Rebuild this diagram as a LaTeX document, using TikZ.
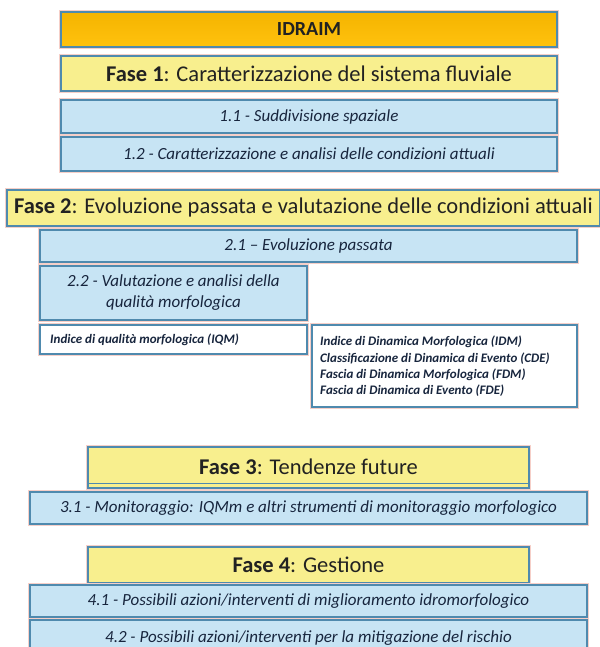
\documentclass[tikz,border=0pt]{standalone}
\usepackage{fontspec}
\setmainfont{Carlito}
\definecolor{bordc}{HTML}{4F8AAE}
\definecolor{halo}{HTML}{F6CFC8}
\definecolor{orangef}{HTML}{F5B400}
\definecolor{orangel}{HTML}{FFC20E}
\definecolor{yellowf}{HTML}{F8EF8E}
\definecolor{bluef}{HTML}{C7E4F4}
\definecolor{txtdark}{HTML}{222222}
\definecolor{txtblue}{HTML}{17253D}
\tikzset{
  x=1pt, y=-1pt,
  boxbase/.style={draw=bordc, line width=1.1pt, inner sep=0pt, outer sep=0pt,
    preaction={draw=halo, line width=3.2pt}},
  idrbox/.style={boxbase, top color=orangef, bottom color=orangel, text=txtdark,
    font=\fontsize{20}{24}\selectfont\bfseries},
  fasebox/.style={boxbase, fill=yellowf, text=txtdark, font=\fontsize{22.5}{26}\selectfont},
  stepbox/.style={boxbase, fill=bluef, text=txtblue, font=\fontsize{17}{21}\selectfont\itshape},
  listbox/.style={boxbase, fill=white},
  smalltxt/.style={inner sep=0pt, text=txtblue, align=left,
    font=\fontsize{13}{16.3}\selectfont\bfseries\itshape},
}
\begin{document}
\begin{tikzpicture}
\useasboundingbox (0,0) rectangle (599,647);
% Fase 1
\node[idrbox, minimum width=496pt, minimum height=35pt] (idraim) at (309,29.5) {IDRAIM};
\node[fasebox, minimum width=496pt, minimum height=35pt] (f1) at (309,73.5) {\textbf{Fase 1}: Caratterizzazione del sistema fluviale};
\node[stepbox, minimum width=496pt, minimum height=33pt] (s11) at (309,116.5) {1.1 - Suddivisione spaziale};
\node[stepbox, minimum width=496pt, minimum height=34pt] (s12) at (309,154) {1.2 - Caratterizzazione e analisi delle condizioni attuali};
% Fase 2
\node[fasebox, minimum width=593pt, minimum height=36pt] (f2) at (303.5,208) {\textbf{Fase 2}: Evoluzione passata e valutazione delle condizioni attuali};
\node[stepbox, minimum width=537pt, minimum height=32pt] (s21) at (308.5,246) {2.1 -- Evoluzione passata};
\node[stepbox, minimum width=267pt, minimum height=54pt, align=center] (s22) at (173.5,293) {2.2 - Valutazione e analisi della\\qualità morfologica};
\node[listbox, minimum width=267pt, minimum height=29pt] (iqm) at (173.5,339.5) {};
\node[smalltxt, anchor=west] (iqmt) at (50,339.5) {Indice di qualità morfologica (IQM)};
\node[listbox, minimum width=265pt, minimum height=82pt] (idm) at (444.5,366) {};
\node[smalltxt, anchor=west] (idmt) at (320,366.5) {Indice di Dinamica Morfologica (IDM)\\Classificazione di Dinamica di Evento (CDE)\\Fascia di Dinamica Morfologica (FDM)\\Fascia di Dinamica di Evento (FDE)};
% Fase 3
\node[fasebox, minimum width=441pt, minimum height=41pt] (f3) at (308.5,467.5) {\raisebox{2pt}{\textbf{Fase 3}: Tendenze future}};
\draw[draw=bordc, line width=1pt] (f3.west |- 0,483) -- (f3.east |- 0,483);
\node[stepbox, minimum width=557pt, minimum height=32pt] (s31) at (308.5,508) {3.1 - Monitoraggio: IQMm e altri strumenti di monitoraggio morfologico};
% Fase 4
\node[fasebox, minimum width=441pt, minimum height=36pt] (f4) at (308.5,565) {\textbf{Fase 4}: Gestione};
\node[stepbox, minimum width=557pt, minimum height=32pt] (s41) at (308.5,601) {4.1 - Possibili azioni/interventi di miglioramento idromorfologico};
\node[stepbox, minimum width=557pt, minimum height=36pt, text depth=0pt] (s42) at (308.5,638) {\raisebox{3pt}{4.2 - Possibili azioni/interventi per la mitigazione del rischio}};
\end{tikzpicture}
\end{document}
